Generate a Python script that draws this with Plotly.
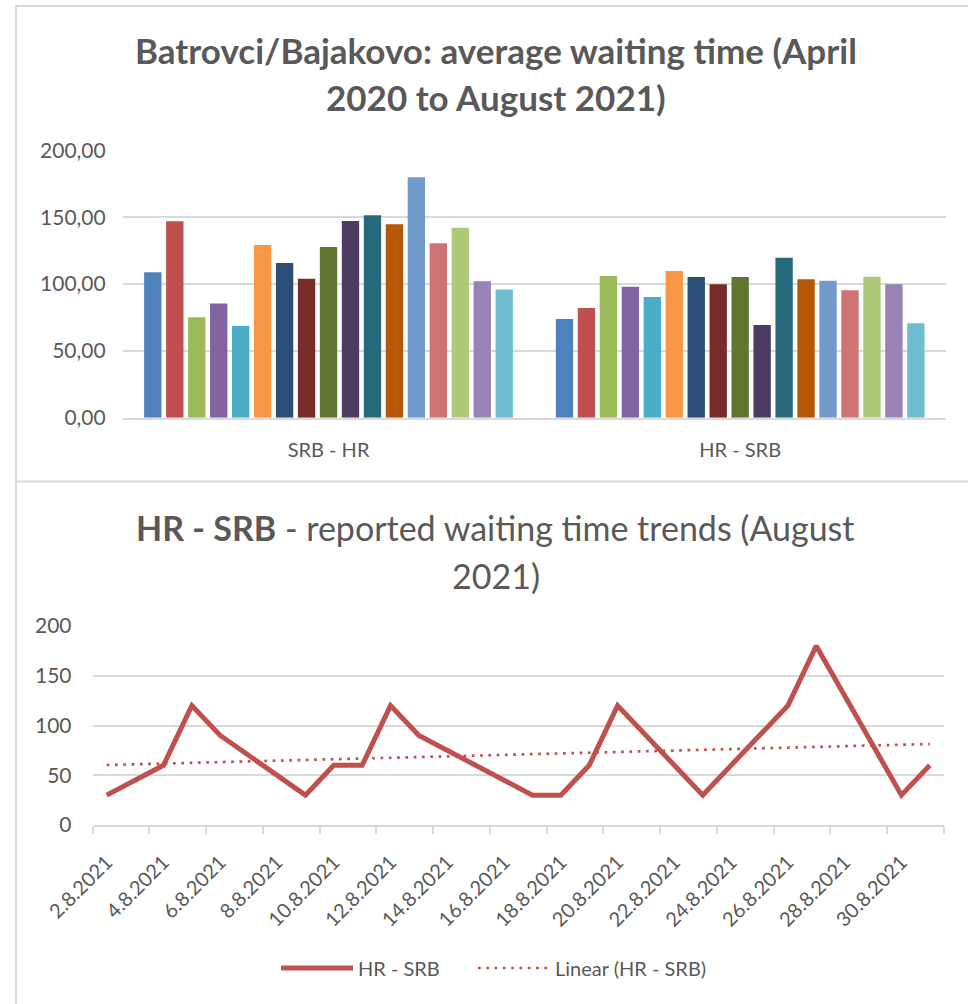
import plotly.graph_objects as go

# ---------------- data ----------------
months = ["April 2020", "May 2020", "June 2020", "July 2020", "August 2020",
          "September 2020", "October 2020", "November 2020", "December 2020",
          "January 2021", "February 2021", "March 2021", "April 2021",
          "May 2021", "June 2021", "July 2021", "August 2021"]
directions = ["SRB - HR", "HR - SRB"]
srb_hr = [108.7, 146.9, 75.1, 85.5, 68.6, 129.2, 115.7, 104.0, 127.7,
          147.1, 151.4, 144.6, 179.8, 130.4, 142.1, 102.0, 95.8]
hr_srb = [73.8, 82.0, 106.0, 98.0, 90.3, 109.7, 105.2, 99.8, 105.2,
          69.3, 119.7, 103.5, 102.5, 95.3, 105.5, 99.8, 70.6]
bar_colors = ["#4F81BD", "#C0504D", "#9BBB59", "#8064A2", "#4BACC6", "#F79646",
              "#2C4D75", "#772C2A", "#5F7530", "#4D3B62", "#276A7C", "#B65708",
              "#729ACA", "#CD7371", "#AFC97A", "#9983B5", "#6FBDD1"]

# August 2021, HR - SRB reported waiting time (None = no report that day)
days = list(range(2, 32))
aug_waiting = [30, None, 60, 120, 90, None, None, 30, 60, 60, 120, 90, None, None, None,
               30, 30, 60, 120, None, None, 30, None, None, 120, 180, None, None, 30, 60]
day_labels = [f"{d}.8.2021" for d in days]
# linear trend line (first and last day)
trend_days = [2, 31]
trend_values = [60.3, 81.4]

# ---------------- helpers ----------------
W, H = 968, 1004
def fx(px):
    return px / W
def fy(py):
    return 1 - py / H

FONT = "Lato"
GRAY = "#595959"
GRID = "#D9D9D9"
RED = "#C0504D"

fig = go.Figure()

# top bar chart
for i, m in enumerate(months):
    fig.add_trace(go.Bar(
        x=directions, y=[srb_hr[i], hr_srb[i]], name=m,
        marker=dict(color=bar_colors[i], line=dict(width=0)),
        xaxis="x", yaxis="y", showlegend=False,
    ))

# bottom line chart
fig.add_trace(go.Scatter(
    x=days, y=aug_waiting, mode="lines", name="HR - SRB", connectgaps=True,
    line=dict(color=RED, width=5, shape="linear"),
    xaxis="x2", yaxis="y2", legend="legend",
))
fig.add_trace(go.Scatter(
    x=trend_days, y=trend_values, mode="lines", name="Linear (HR - SRB)",
    line=dict(color=RED, width=2.7, dash="2.7px,5.6px"),
    xaxis="x2", yaxis="y2", legend="legend2",
))

legend_style = dict(
    orientation="h", yanchor="middle", xanchor="left", y=fy(968),
    font=dict(size=20, color=GRAY, family=FONT),
    bgcolor="rgba(0,0,0,0)", itemwidth=72,
)

fig.update_layout(
    width=W, height=H,
    margin=dict(l=0, r=0, t=0, b=0, autoexpand=False),
    paper_bgcolor="white", plot_bgcolor="white",
    separators=", ",
    font=dict(family=FONT, color=GRAY, size=20),
    barmode="group", bargap=0.093, bargroupgap=0.21,
    xaxis=dict(
        domain=[fx(122.7), fx(946)], anchor="y", automargin=False,
        showgrid=False, showline=True, linecolor=GRID, linewidth=1.5,
        ticks="", tickfont=dict(size=20, color=GRAY, family=FONT),
        ticklabelstandoff=14,
    ),
    yaxis=dict(
        domain=[fy(417.7), fy(150.3)], anchor="x", automargin=False,
        range=[0, 200], dtick=50, tickformat=".2f",
        showgrid=True, gridcolor=GRID, gridwidth=1.5,
        zeroline=False, showline=False, ticks="",
        tickfont=dict(size=21, color=GRAY, family=FONT),
        ticklabelstandoff=16,
    ),
    xaxis2=dict(
        domain=[fx(92.5), fx(944)], anchor="y2", automargin=False,
        range=[1.5, 31.5], tickmode="array",
        tickvals=days[::2], ticktext=day_labels[::2],
        tickangle=-45, ticks="",
        showgrid=False, showline=True, linecolor=GRID, linewidth=1.5,
        minor=dict(tickmode="array", tickvals=[d - 0.5 for d in days[::2]] + [31.5],
                   ticks="outside", ticklen=7, tickcolor=GRID, tickwidth=1.5,
                   showgrid=False),
        tickfont=dict(size=20, color=GRAY, family=FONT),
        ticklabelstandoff=16,
    ),
    yaxis2=dict(
        domain=[fy(825), fy(626)], anchor="x2", automargin=False,
        range=[0, 200], dtick=50,
        showgrid=True, gridcolor=GRID, gridwidth=1.5,
        zeroline=False, showline=False, ticks="",
        tickfont=dict(size=21, color=GRAY, family=FONT),
        ticklabelstandoff=20,
    ),
    legend=dict(x=fx(276), **legend_style),
    legend2=dict(x=fx(473), **legend_style),
)

# panel borders
shapes = [
    dict(type="line", xref="paper", yref="paper", x0=fx(16), x1=fx(16), y0=fy(5), y1=fy(1004),
         line=dict(color=GRID, width=2)),
    dict(type="line", xref="paper", yref="paper", x0=fx(15), x1=1, y0=fy(6), y1=fy(6),
         line=dict(color=GRID, width=2)),
    dict(type="line", xref="paper", yref="paper", x0=fx(15), x1=1, y0=fy(481.5), y1=fy(481.5),
         line=dict(color=GRID, width=2)),
]
fig.update_layout(shapes=shapes)

annotations = [
    dict(text="<b>Batrovci/Bajakovo: average waiting time (April</b>", x=fx(496), y=fy(50), size=35),
    dict(text="<b>2020 to August 2021)</b>", x=fx(496), y=fy(97), size=35),
    dict(text="<b>HR - SRB</b> - reported waiting time trends (August", x=fx(496), y=fy(527), size=34),
    dict(text="2021)", x=fx(496), y=fy(575), size=34),
]
for a in annotations:
    size = a.pop("size")
    fig.add_annotation(xref="paper", yref="paper", xanchor="center", yanchor="middle",
                       showarrow=False, font=dict(family=FONT, size=size, color=GRAY), **a)

fig.write_html("out.html", config={"displayModeBar": False},
               post_script="document.body.style.margin='0';")
